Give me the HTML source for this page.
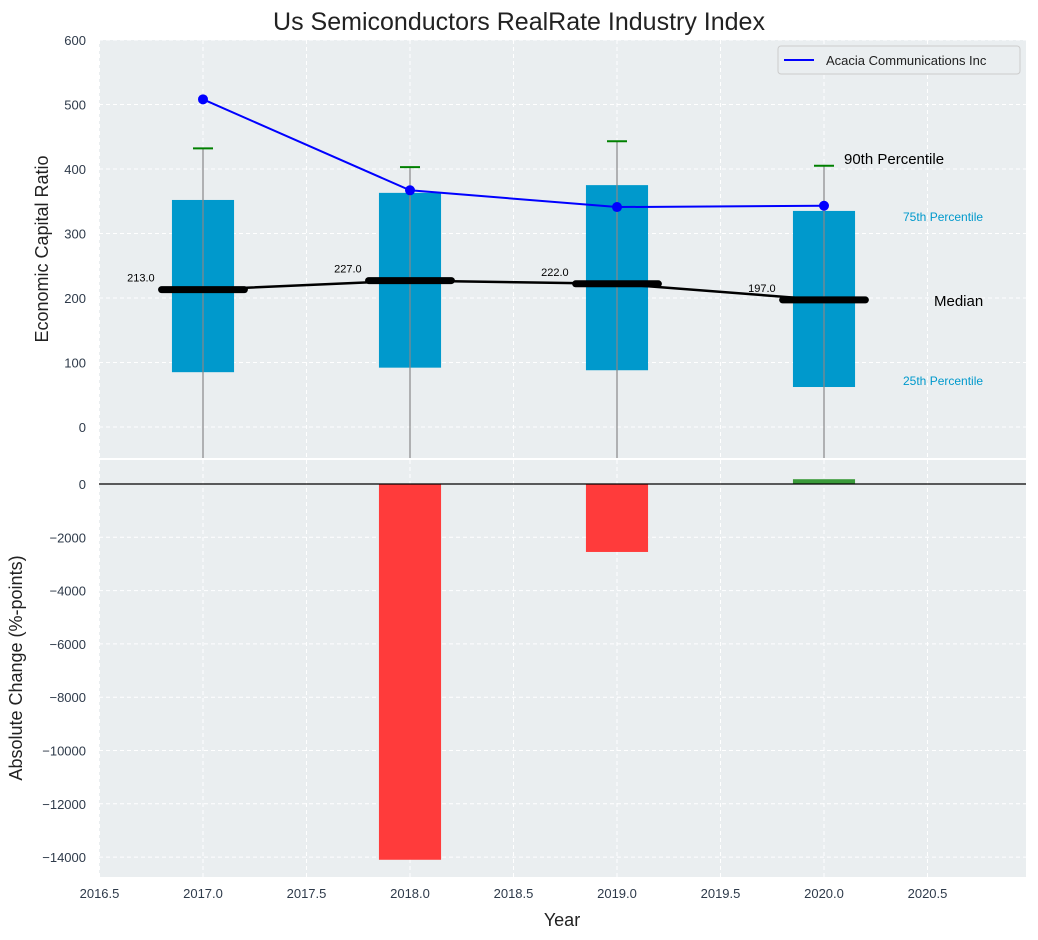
<!DOCTYPE html>
<html><head><meta charset="utf-8"><style>
body{margin:0;background:#fff;}
svg{display:block;font-family:"Liberation Sans","DejaVu Sans",sans-serif;}
</style></head><body>
<svg id="chart" width="1038" height="940" viewBox="0 0 1038 940" xmlns="http://www.w3.org/2000/svg"></svg>
<script>
const years=[2017,2018,2019,2020];
const p25=[85,92,88,62];
const p75=[352,363,375,335];
const p90=[432,403,443,405];
const medians=[213,227,222,197];
const company=[508,367,341,343];
const changeYears=[2018,2019,2020];
const changes=[-14100,-2550,180];
const topTicks=[0,100,200,300,400,500,600];
const botTicks=[0,-2000,-4000,-6000,-8000,-10000,-12000,-14000];
const xTicks=[2016.5,2017,2017.5,2018,2018.5,2019,2019.5,2020,2020.5];

const svg=document.getElementById('chart');
const NS='http://www.w3.org/2000/svg';
const L=99,R=1026,T1=40,B1=458,T2=460,B2=877;
const X=v=>203+(v-2017)*207;
const Y1=v=>427-v*0.645;
const Y2=v=>484-v*(53.3/2000);
function el(tag,attrs,parent,text){const e=document.createElementNS(NS,tag);for(const k in attrs)e.setAttribute(k,attrs[k]);if(text!==undefined)e.textContent=text;(parent||svg).appendChild(e);return e;}

let bg1=el('rect',{x:L,y:T1,width:R-L,height:B1-T1,fill:'#eaeef0'});


let bg2=el('rect',{x:L,y:T2,width:R-L,height:B2-T2,fill:'#eaeef0'});



xTicks.forEach(t=>{
 el('line',{x1:X(t),x2:X(t),y1:T1,y2:B1,stroke:'#fff','stroke-dasharray':'4,3','stroke-width':1});
 el('line',{x1:X(t),x2:X(t),y1:T2,y2:B2,stroke:'#fff','stroke-dasharray':'4,3','stroke-width':1});
 let tl=el('text',{x:X(t),y:898,'text-anchor':'middle','font-size':13,fill:'#2e3a4a'},null,t.toFixed(1));
 
 
});
topTicks.forEach(t=>{
 el('line',{x1:L,x2:R,y1:Y1(t),y2:Y1(t),stroke:'#fff','stroke-dasharray':'4,3'});
 let tl=el('text',{x:86,y:Y1(t)+5,'text-anchor':'end','font-size':13,fill:'#2e3a4a'},null,t);
 
 
});
botTicks.forEach(t=>{
 el('line',{x1:L,x2:R,y1:Y2(t),y2:Y2(t),stroke:'#fff','stroke-dasharray':'4,3'});
 let tl=el('text',{x:86,y:Y2(t)+5,'text-anchor':'end','font-size':13,fill:'#2e3a4a'},null,(t<0?'\u2212'+(-t):t));
 
 
});

years.forEach((yr,i)=>{
 const w=0.3*207;
 let b=el('rect',{x:X(yr)-w/2,y:Y1(p75[i]),width:w,height:Y1(p25[i])-Y1(p75[i]),fill:'#0099cc'});
 
 
 let wl=el('line',{x1:X(yr),x2:X(yr),y1:Y1(p90[i]),y2:B1,stroke:'#888','stroke-width':1.2});
 
 
 let cap=el('line',{x1:X(yr)-10,x2:X(yr)+10,y1:Y1(p90[i]),y2:Y1(p90[i]),stroke:'#008000','stroke-width':2});
 
 
});
let mp=el('polyline',{points:years.map((y,i)=>X(y)+','+Y1(medians[i])).join(' '),fill:'none',stroke:'#000','stroke-width':2.5});


years.forEach((yr,i)=>{
 let m=el('line',{x1:X(yr)-0.2*207,x2:X(yr)+0.2*207,y1:Y1(medians[i]),y2:Y1(medians[i]),stroke:'#000','stroke-width':7,'stroke-linecap':'round'});
 
 
 let t=el('text',{x:X(yr)-0.3*207,y:Y1(medians[i])-8,'text-anchor':'middle','font-size':11,fill:'#000'},null,medians[i].toFixed(1));
 
 
});
let cl=el('polyline',{points:years.map((y,i)=>X(y)+','+Y1(company[i])).join(' '),fill:'none',stroke:'#0000ff','stroke-width':2});


years.forEach((yr,i)=>{
 let c=el('circle',{cx:X(yr),cy:Y1(company[i]),r:5,fill:'#0000ff'});
 
 
});
const last=years.length-1;
let a1=el('text',{x:844,y:Y1(p90[last])-2,'font-size':15,fill:'#000'},null,'90th Percentile');

let a2=el('text',{x:903,y:Y1(p75[last])+10,'font-size':12,fill:'#0099cc'},null,'75th Percentile');

let a3=el('text',{x:934,y:Y1(medians[last])+6,'font-size':15,fill:'#000'},null,'Median');

let a4=el('text',{x:903,y:Y1(p25[last])-2,'font-size':12,fill:'#0099cc'},null,'25th Percentile');


changeYears.forEach((yr,i)=>{
 const w=0.3*207,v=changes[i];
 let b=el('rect',{x:X(yr)-w/2,y:Math.min(Y2(0),Y2(v)),width:w,height:Math.abs(Y2(v)-Y2(0)),fill:v<0?'#ff3b3b':'#3a9a3a'});
 
 
});
let zl=el('line',{x1:L,x2:R,y1:Y2(0),y2:Y2(0),stroke:'#000','stroke-width':1.2});


const lg=el('g',{});

el('rect',{x:778,y:46,width:242,height:28,fill:'#eaeef0',stroke:'#ccc',rx:3},lg);
el('line',{x1:784,x2:814,y1:60,y2:60,stroke:'#0000ff','stroke-width':2},lg);
el('text',{x:826,y:65,'font-size':13,fill:'#222'},lg,'Acacia Communications Inc');

let ti=el('text',{x:519,y:30,'text-anchor':'middle','font-size':25,fill:'#222'},null,'Us Semiconductors RealRate Industry Index');

let yt=el('text',{x:0,y:0,'text-anchor':'middle','font-size':18,fill:'#222',transform:'translate(48,249) rotate(-90)'},null,'Economic Capital Ratio');

let yb=el('text',{x:0,y:0,'text-anchor':'middle','font-size':18,fill:'#222',transform:'translate(22,668) rotate(-90)'},null,'Absolute Change (%-points)');

let xt=el('text',{x:562,y:926,'text-anchor':'middle','font-size':18,fill:'#222'},null,'Year');

</script>
</body></html>
